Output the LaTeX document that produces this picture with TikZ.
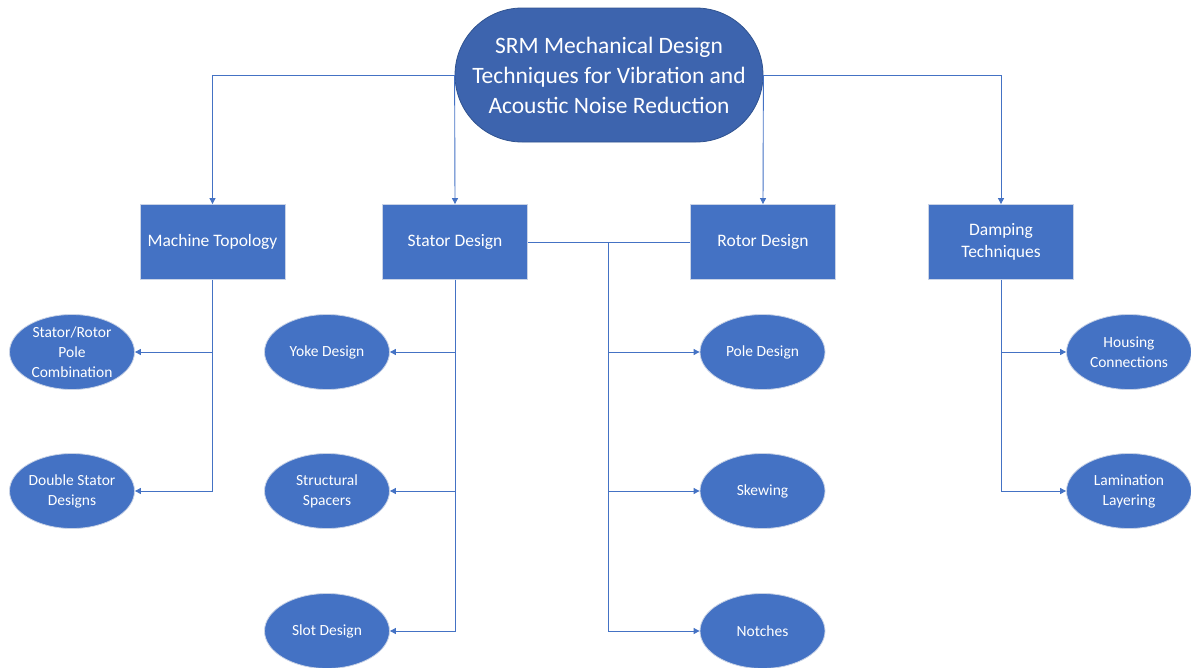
\documentclass[tikz,border=0pt]{standalone}
\usepackage{fontspec}
\setmainfont{Carlito}
\usetikzlibrary{arrows.meta,shapes.geometric,shapes.misc}
\definecolor{boxblue}{HTML}{4472C4}
\definecolor{topblue}{HTML}{3D64AE}
\definecolor{topedge}{HTML}{2F528F}
\definecolor{lightedge}{HTML}{C9D3E6}
\begin{document}
\begin{tikzpicture}[x=1pt,y=-1pt,
  topnode/.style={rounded rectangle, fill=topblue, draw=topedge, line width=0.8pt,
    minimum width=308pt, minimum height=134pt, inner sep=0pt, text=white,
    font=\fontsize{23.5}{30}\selectfont, align=center},
  catbox/.style={rectangle, fill=boxblue, draw=lightedge, line width=0.8pt,
    minimum width=145pt, minimum height=75pt, inner sep=0pt, text=white,
    font=\fontsize{17.5}{22.5}\selectfont, align=center},
  leaf/.style={ellipse, fill=boxblue, draw=lightedge, line width=0.8pt,
    minimum width=125pt, minimum height=75pt, inner sep=0pt, text=white,
    font=\fontsize{15.5}{20}\selectfont, align=center},
  conn/.style={draw=boxblue, line width=0.9pt},
  arr/.style={conn, -{Triangle[length=6pt,width=6pt]}}
]
\useasboundingbox (0,0) rectangle (1191,667);
\node[topnode] (top) at (609,75) {SRM Mechanical Design\\Techniques for Vibration and\\Acoustic Noise Reduction};

\node[catbox] (mt) at (212.5,242) {Machine Topology};
\node[catbox] (sd) at (455,242) {Stator Design};
\node[catbox] (rd) at (763,242) {Rotor Design};
\node[catbox] (dt) at (1001,242) {Damping\\Techniques};

\node[leaf] (srp) at (72,352) {Stator/Rotor\\Pole\\Combination};
\node[leaf] (dsd) at (72,491) {Double Stator\\Designs};

\node[leaf] (yoke) at (327,352) {Yoke Design};
\node[leaf] (ss) at (327,491) {Structural\\Spacers};
\node[leaf] (slot) at (327,631) {Slot Design};

\node[leaf] (pd) at (762.5,352) {Pole Design};
\node[leaf] (sk) at (762.5,491) {Skewing};
\node[leaf] (no) at (762.5,631) {Notches};

\node[leaf] (hc) at (1129,352) {Housing\\Connections};
\node[leaf] (ll) at (1129,491) {Lamination\\Layering};

\coordinate (rb) at (608,242);

\draw[arr] (top.west) -| (mt.north);
\draw[arr] (top.west) -- (sd.north);
\draw[arr] (top.east) -- (rd.north);
\draw[arr] (top.east) -| (dt.north);

\draw[arr] (mt.south) |- (srp.east);
\draw[arr] (mt.south) |- (dsd.east);

\draw[arr] (sd.south) |- (yoke.east);
\draw[arr] (sd.south) |- (ss.east);
\draw[arr] (sd.south) |- (slot.east);

\draw[conn] (sd.east) -- (rb);
\draw[conn] (rb) -- (rd.west);
\draw[arr] (rb) |- (pd.west);
\draw[arr] (rb) |- (sk.west);
\draw[arr] (rb) |- (no.west);

\draw[arr] (dt.south) |- (hc.west);
\draw[arr] (dt.south) |- (ll.west);
\end{tikzpicture}
\end{document}
